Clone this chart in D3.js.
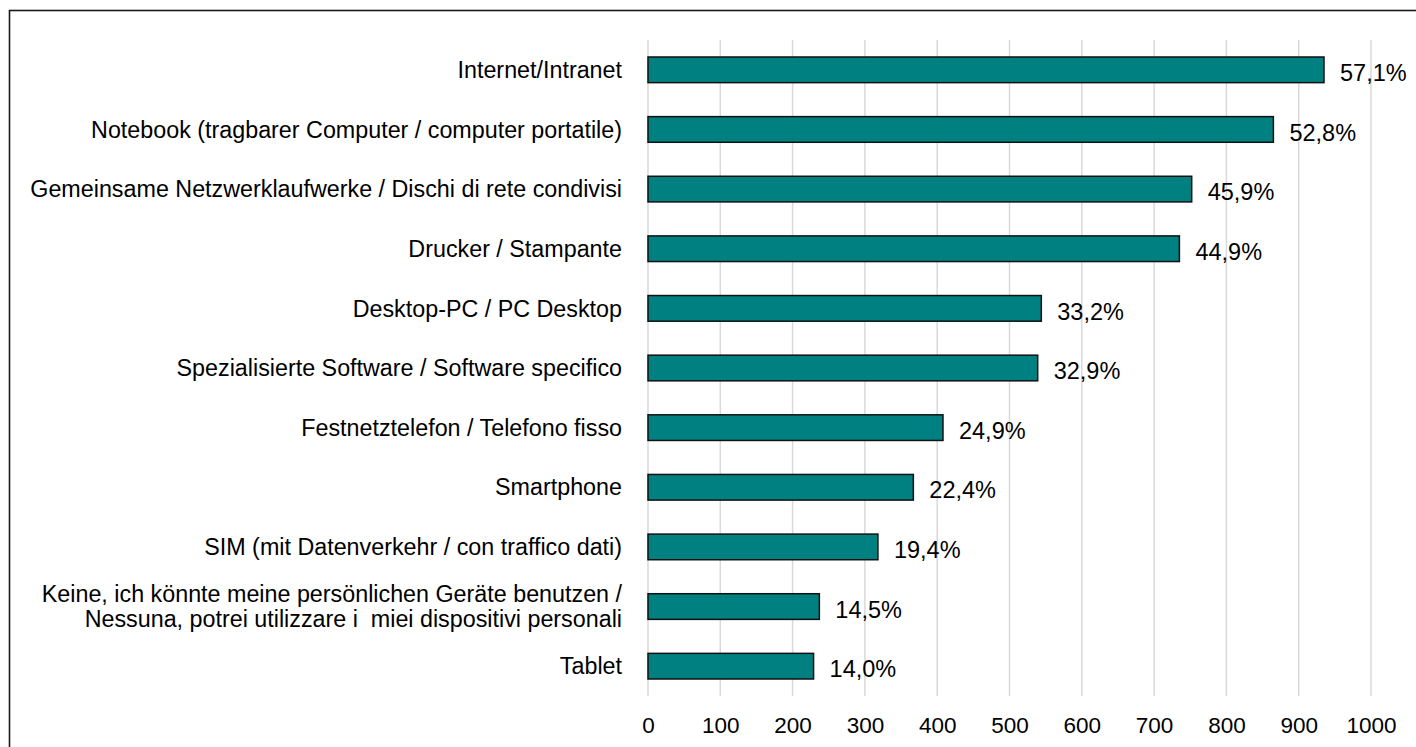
<!DOCTYPE html>
<html>
<head>
<meta charset="utf-8">
<script src="https://cdn.jsdelivr.net/npm/d3@7"></script>
<style>
  html, body { margin: 0; padding: 0; background: #fff; }
  svg { display: block; font-family: "Liberation Sans", Arial, sans-serif; }
  svg text { white-space: pre; }
</style>
</head>
<body>
<svg id="chart" width="1416" height="747"></svg>
<script>
// Devices / tools available (number of respondents per answer)
const categories = [
  ["Internet/Intranet"],
  ["Notebook (tragbarer Computer / computer portatile)"],
  ["Gemeinsame Netzwerklaufwerke / Dischi di rete condivisi"],
  ["Drucker / Stampante"],
  ["Desktop-PC / PC Desktop"],
  ["Spezialisierte Software / Software specifico"],
  ["Festnetztelefon / Telefono fisso"],
  ["Smartphone"],
  ["SIM (mit Datenverkehr / con traffico dati)"],
  ["Keine, ich könnte meine persönlichen Geräte benutzen /", "Nessuna, potrei utilizzare i  miei dispositivi personali"],
  ["Tablet"]
];
const counts = [935, 865, 752, 735, 544, 539, 408, 367, 318, 237, 229];
const totalRespondents = 1638;
const xTicks = [0, 100, 200, 300, 400, 500, 600, 700, 800, 900, 1000];

const svg = d3.select("#chart");
const labelSize = 23.3;
const valueSize = 23.5;
const tickSize = 22.5;

const x = d3.scaleLinear().domain([0, 1000]).range([648, 1371]);
const y = d3.scaleBand()
  .domain(d3.range(categories.length))
  .range([40, 696])
  .paddingInner(0.57)
  .paddingOuter(0.285);

// outer frame
svg.append("rect")
  .attr("x", 9.5).attr("y", 10.5)
  .attr("width", 1440).attr("height", 780)
  .attr("fill", "none")
  .attr("stroke", "#1a1a1a")
  .attr("stroke-width", 1.6);

// vertical gridlines
svg.append("g")
  .selectAll("line")
  .data(xTicks)
  .join("line")
  .attr("x1", d => x(d)).attr("x2", d => x(d))
  .attr("y1", 40).attr("y2", 696)
  .attr("stroke", "#d9d9d9")
  .attr("stroke-width", 1.5);

// x axis labels
const xAxis = d3.axisBottom(x).tickValues(xTicks).tickFormat(d3.format("d")).tickSize(0).tickPadding(0);
const gx = svg.append("g")
  .attr("transform", "translate(0,717)")
  .call(xAxis);
gx.select(".domain").remove();
gx.selectAll("text")
  .attr("font-size", tickSize)
  .attr("font-family", "Liberation Sans, Arial, sans-serif")
  .attr("fill", "#000")
  .attr("dy", "0.71em");

// bars
svg.append("g")
  .selectAll("rect")
  .data(counts)
  .join("rect")
  .attr("x", x(0))
  .attr("y", (d, i) => y(i))
  .attr("width", d => x(d) - x(0))
  .attr("height", y.bandwidth())
  .attr("fill", "#008080")
  .attr("stroke", "#111")
  .attr("stroke-width", 1.5);

// value labels (share of respondents)
const fmt = v => d3.format(".1f")(v).replace(".", ",") + "%";
svg.append("g")
  .selectAll("text")
  .data(counts)
  .join("text")
  .attr("x", d => x(d) + 16)
  .attr("y", (d, i) => y(i) + y.bandwidth() / 2 + 3)
  .attr("dy", "0.35em")
  .attr("font-size", valueSize)
  .attr("fill", "#000")
  .text(d => fmt(d / totalRespondents * 100));

// category labels
const lineH = 25;
const labels = svg.append("g")
  .selectAll("text")
  .data(categories)
  .join("text")
  .attr("x", 622)
  .attr("y", (d, i) => y(i) + y.bandwidth() / 2)
  .attr("text-anchor", "end")
  .attr("font-size", labelSize)
  .attr("fill", "#000");
labels.each(function(lines) {
  const t = d3.select(this);
  const y0 = +t.attr("y");
  lines.forEach((ln, k) => {
    t.append("tspan")
      .attr("x", 622)
      .attr("y", y0 + (k - (lines.length - 1) / 2) * lineH)
      .attr("dy", "0.35em")
      .text(ln);
  });
});
</script>
</body>
</html>
